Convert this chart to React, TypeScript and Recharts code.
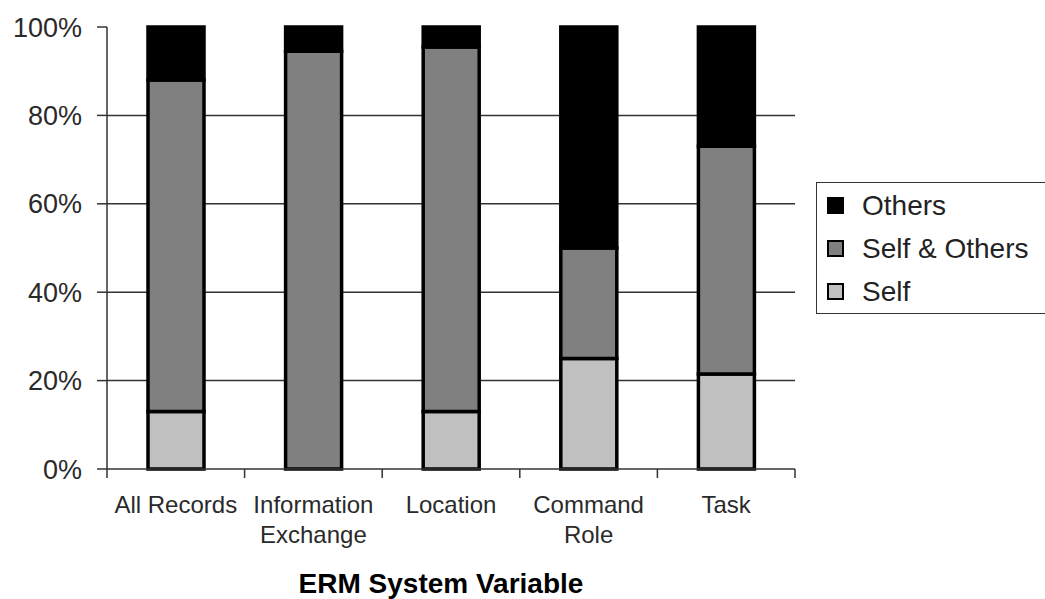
import { BarChart, Bar, XAxis, YAxis, CartesianGrid } from "recharts";

const categories = ["All Records", "Information\nExchange", "Location", "Command\nRole", "Task"];
const selfValues = [13, 0, 13, 25, 21.5];
const selfOthersValues = [75, 94.5, 82.5, 25, 51.5];
const othersValues = [12, 5.5, 4.5, 50, 27];
const yTicks = [0, 20, 40, 60, 80, 100];

const data = categories.map((c, i) => ({
  name: c,
  self: selfValues[i],
  selfOthers: selfOthersValues[i],
  others: othersValues[i]
}));

const legendItems = [
  { label: "Others", color: "#000000" },
  { label: "Self & Others", color: "#808080" },
  { label: "Self", color: "#c0c0c0" }
];

const font = "Arial, 'Liberation Sans', sans-serif";

function CategoryTick(props: any) {
  const { x, y, payload, index } = props;
  const half = payload && payload.offset ? payload.offset : 68.8;
  const lines = String(payload.value).split("\n");
  return (
    <g>
      <line x1={x - half} y1={y} x2={x - half} y2={y + 9} stroke="#333" strokeWidth={1.5} />
      {index === categories.length - 1 && (
        <line x1={x + half} y1={y} x2={x + half} y2={y + 9} stroke="#333" strokeWidth={1.5} />
      )}
      <text x={x} y={y + 44} textAnchor="middle" fill="#2a2a2a" fontSize={24} fontFamily={font}>
        {lines.map((l, i) => (
          <tspan key={i} x={x} dy={i === 0 ? 0 : 30}>
            {l}
          </tspan>
        ))}
      </text>
    </g>
  );
}

function LegendBox() {
  return (
    <div
      style={{
        position: "absolute",
        left: 816,
        top: 182,
        border: "1.5px solid #333",
        width: 232,
        height: 132,
        boxSizing: "border-box",
        paddingTop: 1,
        fontFamily: font,
        background: "#fff"
      }}
    >
      {legendItems.map((it) => (
        <div key={it.label} style={{ display: "flex", alignItems: "center", height: 43, paddingLeft: 10 }}>
          <span
            style={{
              display: "inline-block",
              width: 13,
              height: 13,
              background: it.color,
              border: "2.5px solid #000",
              marginRight: 18
            }}
          />
          <span style={{ fontSize: 28, color: "#222" }}>{it.label}</span>
        </div>
      ))}
    </div>
  );
}

export default function App() {
  return (
    <div style={{ position: "absolute", left: 0, top: 0, width: 1045, height: 599, background: "#fff", overflow: "hidden" }}>
      <BarChart
        width={1045}
        height={599}
        data={data}
        margin={{ top: 27, right: 250, left: 0, bottom: 0 }}
      >
        <CartesianGrid
          vertical={false}
          horizontalValues={[20, 40, 60, 80]}
          stroke="#333"
          strokeWidth={1.5}
        />
        <XAxis
          dataKey="name"
          height={130}
          tickLine={false}
          tickSize={0}
          tickMargin={0}
          axisLine={{ stroke: "#333", strokeWidth: 1.5 }}
          tick={<CategoryTick />}
          interval={0}
          label={{
            value: "ERM System Variable",
            position: "insideBottom",
            offset: 6,
            dx: -10,
            fill: "#000",
            fontSize: 28,
            fontWeight: "bold",
            fontFamily: font
          }}
        />
        <YAxis
          width={107}
          domain={[0, 100]}
          ticks={yTicks}
          tickFormatter={(v: number) => `${v}%`}
          tickSize={10}
          tickMargin={15}
          tickLine={{ stroke: "#333", strokeWidth: 1.5 }}
          axisLine={{ stroke: "#333", strokeWidth: 1.5 }}
          tick={{ fill: "#2a2a2a", fontSize: 27, fontFamily: font }}
          interval={0}
        />
        <Bar dataKey="self" stackId="a" barSize={56} fill="#c0c0c0" stroke="#000" strokeWidth={3.5} isAnimationActive={false} />
        <Bar dataKey="selfOthers" stackId="a" barSize={56} fill="#808080" stroke="#000" strokeWidth={3.5} isAnimationActive={false} />
        <Bar dataKey="others" stackId="a" barSize={56} fill="#000000" stroke="#000" strokeWidth={3.5} isAnimationActive={false} />
      </BarChart>
      <LegendBox />
    </div>
  );
}
